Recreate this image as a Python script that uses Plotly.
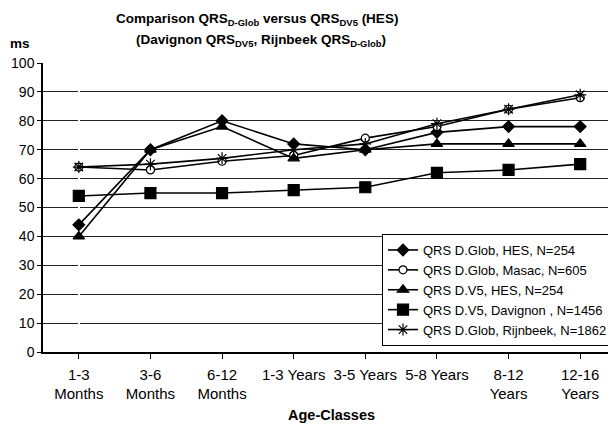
import plotly.graph_objects as go

categories = ["1-3<br>Months", "3-6<br>Months", "6-12<br>Months", "1-3 Years",
              "3-5 Years", "5-8 Years", "8-12<br>Years", "12-16<br>Years"]
dglob_hes = [44, 70, 80, 72, 70, 76, 78, 78]
dglob_masac = [64, 63, 66, 68, 74, 78, 84, 88]
dv5_hes = [40, 70, 78, 67, 70, 72, 72, 72]
dv5_davignon = [54, 55, 55, 56, 57, 62, 63, 65]
dglob_rijnbeek = [64, 65, 67, 70, 72, 79, 84, 89]

series_names = ["QRS D.Glob, HES, N=254", "QRS D.Glob, Masac, N=605",
                "QRS D.V5, HES, N=254", "QRS D.V5, Davignon , N=1456",
                "QRS D.Glob, Rijnbeek, N=1862"]
series_values = [dglob_hes, dglob_masac, dv5_hes, dv5_davignon, dglob_rijnbeek]
symbols = ["diamond", "circle", "triangle-up", "square", "asterisk-open"]
fills = ["black", "white", "black", "black", "black"]
sizes = [9, 8, 10, 11, 10]

# The page body has an 8px margin, so the figure starts at (8, 8) in the window.
W, H = 608, 417
L, R, T, B = 35, 0, 55, 73
PW, PH = W - L - R, H - T - B


def px(xp):
    return (xp - 8 - L) / PW


def py(yp):
    return (H - B - (yp - 8)) / PH


FONT = "Liberation Sans, Arial, sans-serif"
fig = go.Figure()
xs = list(range(len(categories)))
for name, vals, sym, fc, sz in zip(series_names, series_values, symbols, fills, sizes):
    fig.add_trace(go.Scatter(
        x=xs, y=vals, name=name, mode="lines+markers",
        line=dict(color="black", width=1.6),
        marker=dict(symbol=sym, size=sz, color=fc,
                    line=dict(color="black", width=1.2)),
    ))

fig.update_layout(
    width=W, height=H,
    margin=dict(l=L, r=R, t=T, b=B, autoexpand=False),
    paper_bgcolor="white", plot_bgcolor="white",
    font=dict(family=FONT, color="black", size=14),
    showlegend=True,
    legend=dict(x=px(613), y=py(346), xanchor="right", yanchor="bottom",
                bgcolor="white", bordercolor="black", borderwidth=1,
                font=dict(size=13, family=FONT), tracegroupgap=0,
                itemwidth=30),
    annotations=[
        dict(text="<b>Comparison QRS<sub>D-Glob</sub> versus QRS<sub>DV5</sub> (HES)</b>",
             xref="paper", yref="paper", x=px(257), y=py(20),
             xanchor="center", yanchor="middle", showarrow=False,
             font=dict(size=13.5, family=FONT)),
        dict(text="<b>(Davignon QRS<sub>DV5</sub>, Rijnbeek QRS<sub>D-Glob</sub>)</b>",
             xref="paper", yref="paper", x=px(261), y=py(41),
             xanchor="center", yanchor="middle", showarrow=False,
             font=dict(size=13.5, family=FONT)),
        dict(text="<b>ms</b>", xref="paper", yref="paper",
             x=px(8), y=py(43), xanchor="left", yanchor="middle",
             showarrow=False, font=dict(size=13.5, family=FONT)),
        dict(text="<b>Age-Classes</b>", xref="paper", yref="paper",
             x=px(331), y=py(415), xanchor="center", yanchor="middle",
             showarrow=False, font=dict(size=14.5, family=FONT)),
    ],
)
fig.update_xaxes(
    range=[-0.5, 7.5], tickmode="array", tickvals=xs, ticktext=categories,
    tickson="boundaries", ticks="outside", ticklen=5, tickcolor="black",
    showline=True, linecolor="black", linewidth=1.5, showgrid=False,
    tickfont=dict(size=15), automargin=False, ticklabelstandoff=3,
)
fig.update_yaxes(
    range=[0, 100], dtick=10, ticks="outside", ticklen=4, tickcolor="black",
    showline=True, linecolor="black", linewidth=1.5,
    showgrid=True, gridcolor="#222222", gridwidth=1, zeroline=False,
    tickfont=dict(size=14), automargin=False,
)
fig.write_html("out.html")
